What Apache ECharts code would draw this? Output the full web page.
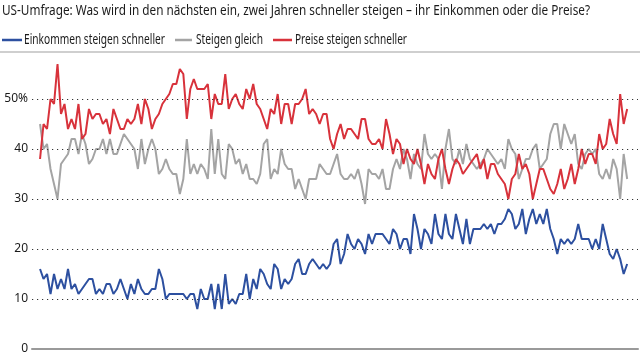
<!DOCTYPE html>
<html><head><meta charset="utf-8">
<script src="https://cdn.jsdelivr.net/npm/echarts@6/dist/echarts.min.js"></script>
<style>html,body{margin:0;padding:0;background:#fff}#c{width:640px;height:360px}</style>
</head><body><div id="c"></div>
<script>
const titleText = "US-Umfrage: Was wird in den nächsten ein, zwei Jahren schneller steigen – ihr Einkommen oder die Preise?";
const seriesNames = ["Einkommen steigen schneller", "Steigen gleich", "Preise steigen schneller"];
const yTicks = [10, 20, 30, 40, 50];

const einkommen = [16,14,15,11,15,12,14,12,16,12,13,11,12,13,14,14,11,12,11,13,13,11,12,14,12,10,13,11,14,12,11,11,12,
12,16,14,10,11,11,11,11,11,10,11,11,8,12,10,10,13,8,13,8,15,9,10,9,11,11,15,10,14,12,16,15,13,12,17,16,
12,14,13,14,17,18,15,15,17,18,17,16,17,16,17,21,22,17,19,23,21,20,22,21,19,23,21,23,23,23,22,21,24,23,
20,22,22,19,27,24,20,24,23,21,27,23,22,27,23,22,27,24,21,26,21,24,24,24,25,24,25,23,25,25,26,28,27,24,25,
28,23,26,28,25,27,25,28,24,22,19,22,21,22,21,22,25,22,22,22,20,22,20,25,22,19,18,20,18,15,17];

const gleich = [45,40,41,36,33,30,37,38,39,42,42,39,43,41,37,38,40,40,42,39,42,39,39,41,43,42,41,40,
36,42,37,40,42,40,35,36,38,36,35,35,31,34,42,35,37,35,37,36,34,44,35,42,35,34,41,40,37,
38,35,37,34,34,33,35,41,42,34,36,35,40,37,36,36,32,34,32,30,34,34,34,37,36,35,35,37,39,
35,34,34,35,34,36,33,29,36,35,35,34,36,32,32,36,38,36,40,38,34,39,37,36,43,39,38,39,38,
32,40,44,38,37,40,37,41,38,37,36,37,38,40,39,38,37,38,36,42,40,39,34,36,38,38,40,41,36,
37,38,43,45,45,40,45,43,41,43,37,36,39,40,39,40,35,34,36,34,38,36,30,39,34];

const preise = [38,45,44,50,49,57,47,49,44,46,44,49,42,43,48,46,47,47,45,46,43,48,46,44,44,46,45,46,
49,45,50,48,44,46,47,49,50,51,53,53,56,55,46,52,54,52,52,52,53,46,51,49,49,55,48,
50,51,49,48,52,50,53,49,48,46,44,48,47,51,45,49,49,45,49,49,50,52,47,48,47,45,47,47,42,
40,43,45,42,44,44,43,42,46,46,42,41,41,42,40,46,43,39,42,41,37,40,38,37,40,37,33,37,
35,34,38,40,36,33,36,38,37,35,36,37,38,39,36,38,34,37,37,35,34,33,30,34,35,39,36,37,35,
30,33,36,36,34,32,31,33,36,32,34,37,33,36,40,37,39,39,37,43,40,41,46,43,41,51,45,48];

const colors = ["#2d50a0", "#a4a4a4", "#d8323b"];
const FAMILY = "'Noto Sans', sans-serif";
const toPairs = arr => arr.map((v, i) => [i, v]);
const n = einkommen.length;

// text measuring to condense text to the reference widths
const ctx = document.createElement('canvas').getContext('2d');
function fitScale(txt, size, target) {
  ctx.font = size + "px " + FAMILY;
  return target / ctx.measureText(txt).width;
}
function condensedText(txt, x, y, size, target, fill) {
  return {
    type: 'text', x: x, y: y, scaleX: fitScale(txt, size, target), silent: true,
    style: {text: txt, fontSize: size, fontFamily: FAMILY, fill: fill || '#1a1a1a',
            align: 'left', verticalAlign: 'middle'}
  };
}
const legendLayout = [
  {sx: 2, ex: 22, tx: 24, tw: 141},
  {sx: 175, ex: 192, tx: 196, tw: 67},
  {sx: 273, ex: 292, tx: 295, tw: 112}
];
const graphics = [condensedText(titleText, 2, 11, 15, 588)];
seriesNames.forEach((name, k) => {
  const L = legendLayout[k];
  graphics.push({type: 'line', silent: true, shape: {x1: L.sx, y1: 40, x2: L.ex, y2: 40},
                 style: {stroke: colors[k], lineWidth: 2.5}});
  graphics.push(condensedText(name, L.tx, 40, 14, L.tw));
});
graphics.push({type: 'line', shape: {x1: 0, y1: 52, x2: 640, y2: 52},
               style: {stroke: '#cfcfcf', lineWidth: 2}, silent: true});

const chart = echarts.init(document.getElementById('c'), null, {renderer: 'canvas'});
chart.setOption({
  animation: false,
  graphic: graphics,
  grid: {left: 32, right: 2, top: 49, bottom: 11},
  xAxis: {
    type: 'value', min: -2.3, max: n - 1 + 3.1,
    axisLine: {show: true, onZero: true, lineStyle: {color: '#9a9a9a', width: 2}},
    axisTick: {show: false}, axisLabel: {show: false}, splitLine: {show: false}
  },
  yAxis: {
    type: 'value', min: 0, max: 60, interval: 10,
    axisLine: {show: false}, axisTick: {show: false}, splitLine: {show: false},
    axisLabel: {
      margin: 4, fontSize: 12, color: '#1a1a1a', fontFamily: FAMILY,
      formatter: v => v === 60 ? '' : (v === 50 ? '50%' : String(v))
    }
  },
  series: [
    {
      type: 'line', data: [], silent: true, z: 1,
      markLine: {
        silent: true, symbol: ['none', 'none'], label: {show: false},
        lineStyle: {type: [1.2, 3.8], color: '#333', width: 1.2},
        data: yTicks.map(v => ({yAxis: v}))
      }
    },
    {name: seriesNames[0], type: 'line', data: toPairs(einkommen), showSymbol: false, z: 3,
     lineStyle: {color: colors[0], width: 2}, itemStyle: {color: colors[0]}},
    {name: seriesNames[1], type: 'line', data: toPairs(gleich), showSymbol: false, z: 2,
     lineStyle: {color: colors[1], width: 2}, itemStyle: {color: colors[1]}},
    {name: seriesNames[2], type: 'line', data: toPairs(preise), showSymbol: false, z: 4,
     lineStyle: {color: colors[2], width: 2}, itemStyle: {color: colors[2]}}
  ]
});
</script>
</body></html>
